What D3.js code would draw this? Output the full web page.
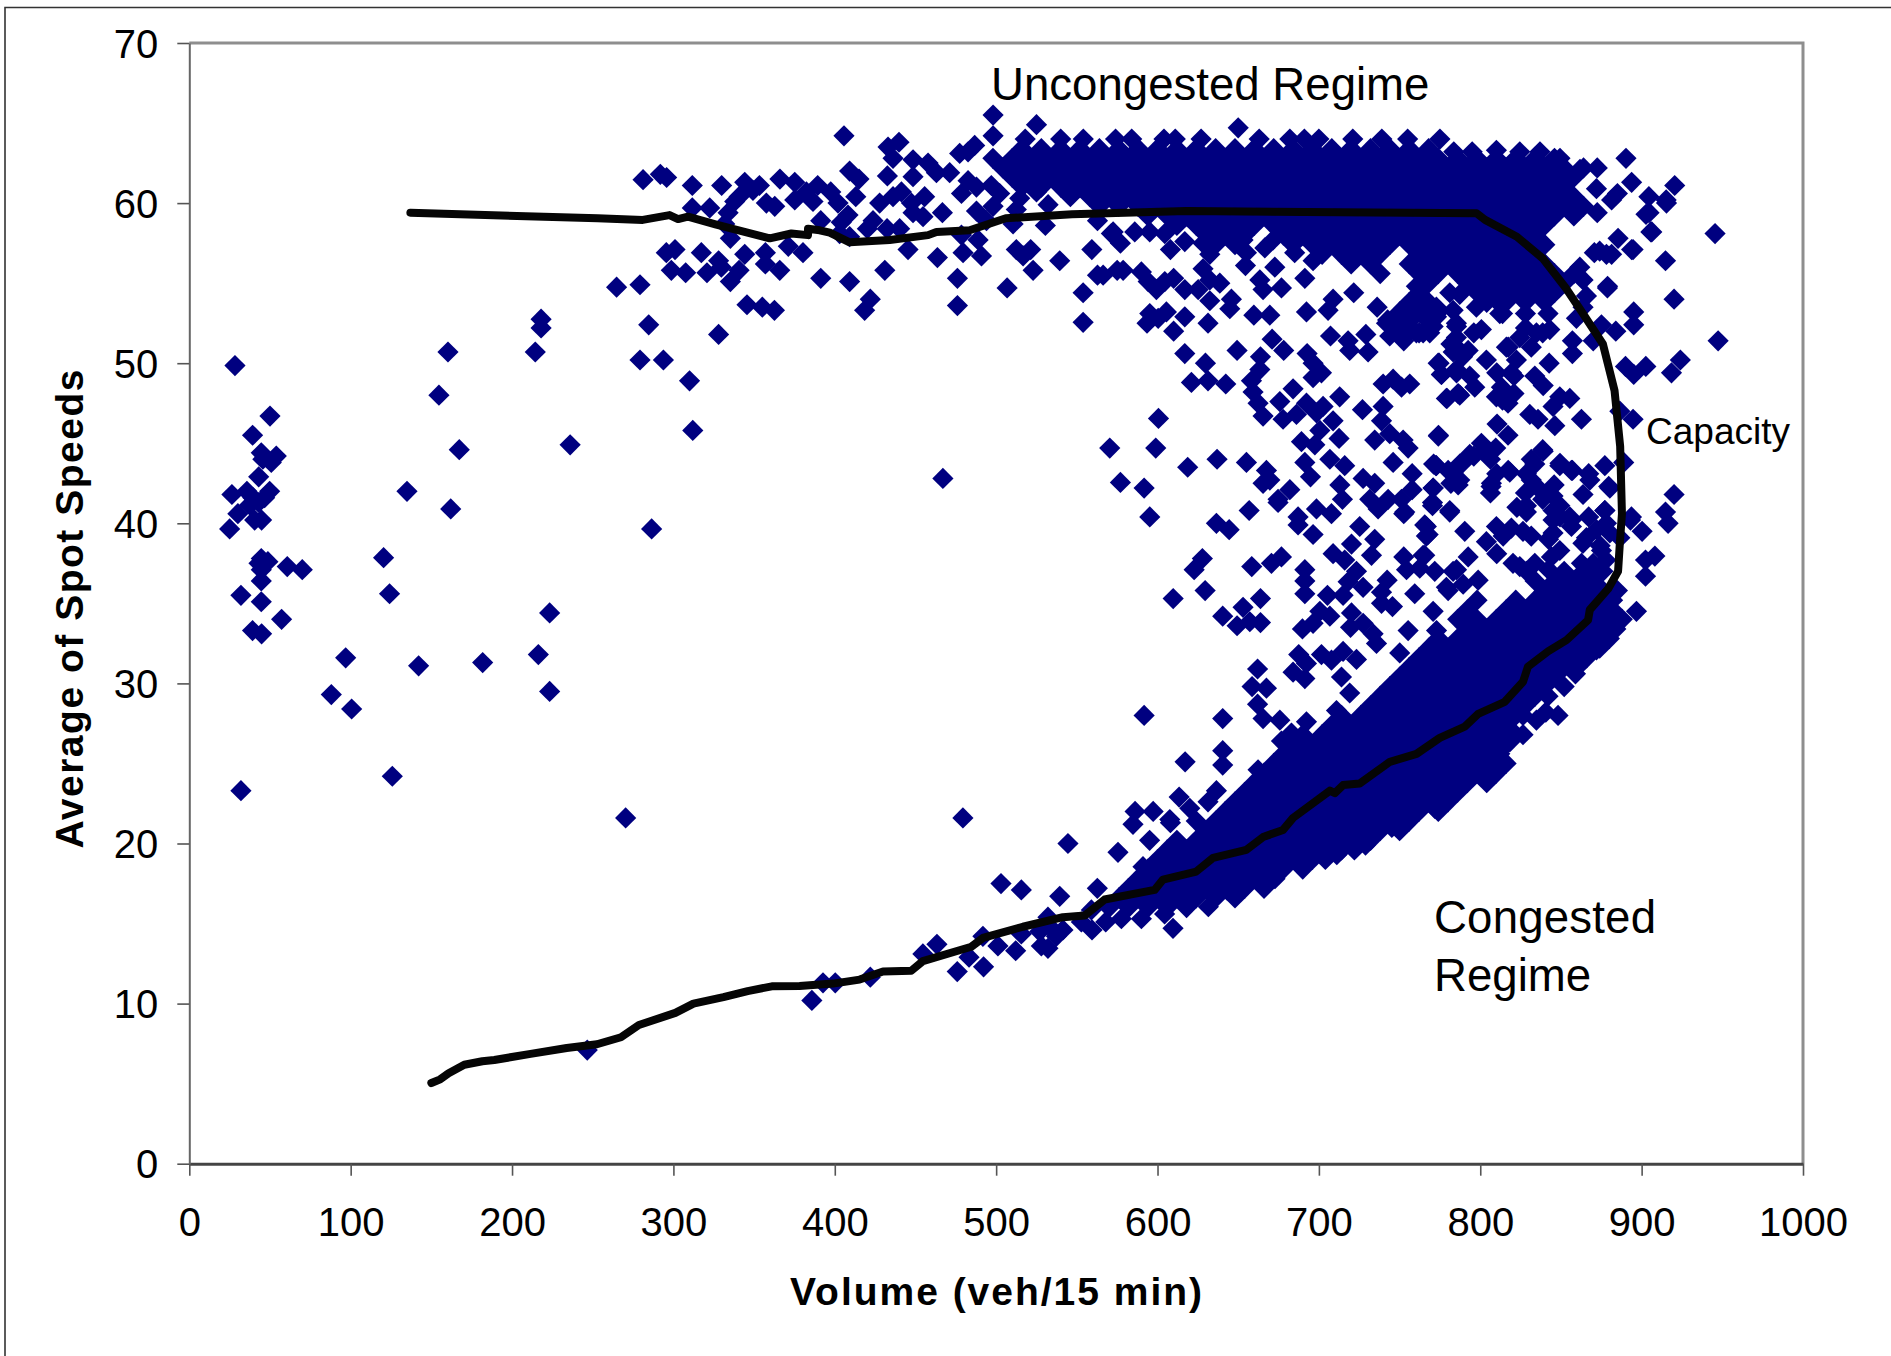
<!DOCTYPE html>
<html>
<head>
<meta charset="utf-8">
<title>Speed vs volume</title>
<script src="https://cdn.jsdelivr.net/npm/d3@7"></script>
<style>
  html, body { margin: 0; padding: 0; background: #fff; }
  svg { display: block; }
  text { font-family: "Liberation Sans", Arial, sans-serif; fill: #000; }
</style>
</head>
<body>
<script>
var xTicks = [0, 100, 200, 300, 400, 500, 600, 700, 800, 900, 1000];
var yTicks = [0, 10, 20, 30, 40, 50, 60, 70];

// [volume, speed], low volume cloud
var lowVolumePoints = [
  [28.3,49.85],[50,46.7],[39.2,45.5],[44.6,44.4],[53.9,44.2],[45.6,44],[50.8,43.8],[43,42.9],[26.4,41.8],[35.7,42],
  [49.8,42],[46.7,41.6],[39.4,41.6],[37.4,41.15],[30.1,40.6],[43,41.3],[40.5,40.2],[44.8,40.2],[25,39.65],[44.6,37.8],
  [48.7,37.6],[43.2,37.5],[44.6,37.1],[60.7,37.3],[70,37.1],[44.6,36.4],[32,35.5],[44.6,35.1],[57.2,34],[39.2,33.3],
  [44.8,33.1],[96.9,31.6],[88,29.3],[100.6,28.4],[32,23.3],[125.8,24.2],[120.4,37.85],[124.1,35.6],[134.9,42],[162,40.9],
  [167.3,44.6],[154.7,48],[160.3,50.7],[142.1,31.1],[181.8,31.3],[216.3,31.8],[223.3,29.5],[223.3,34.4],[214.4,50.7],
  [218,52.75],[218,52.2],[236,44.9],[286.5,39.65],[270.4,21.6],[264.8,54.75],[279.3,54.9],[284.7,52.4],[279.3,50.2],
  [293.8,50.2],[310,48.9],[312,45.8],[328,51.8],[479.4,21.6],[467,42.8],[246.6,7.1]
];

// loose points above and below the free-flow line, volume 280 to 600
var freeFlowPoints = [
  [281.2,61.46],[291.9,61.8],[295.8,61.6],[311.7,61.1],[329.9,61.1],[344.2,61.3],[353.3,61.1],[366,61.5],[375.2,61.3],
  [389.4,61.1],[397.5,60.7],[340.7,60.4],[349.3,60.8],[357.6,60],[362.8,59.8],[375.2,60.2],[382.4,60.7],[386.5,60.1],
  [402,60],[413,60.4],[311.7,59.7],[322.5,59.7],[333.9,59.4],[338,60.1],[331.8,58.7],[391.3,58.9],[408.2,59.25],[404,58.8],
  [403,58.1],[409.2,57.9],[335.3,57.8],[295.6,56.9],[301,57.1],[317.3,56.9],[328,56.4],[344.2,56.8],[357,56.9],[371.2,57.3],
  [380.3,56.9],[298.7,55.8],[307.6,55.65],[320.8,55.65],[329.7,56],[340.7,55.8],[335.3,55.1],[357,56.2],[365.9,55.8],
  [391.3,55.3],[409.2,55.1],[345.6,53.65],[355.1,53.5],[362.6,53.3],[422,54],[418.5,53.3],[405.7,64.2],[409.2,62],[415,61.5],
  [432.6,61.7],[433,63.5],[439.8,63.8],[436.1,62.8],[448.5,62.7],[457.8,62.5],[463,61.9],[471.2,61.9],[448.5,61.65],
  [427.8,60],[436.1,60.4],[441.3,60.7],[447.5,60],[455.7,60.4],[423.7,58.9],[420.2,58.4],[432.4,58.4],[440.2,58.4],
  [448.5,59.4],[454.7,59.15],[466.7,59.4],[445.4,57.1],[463.6,56.6],[431,55.8],[479.5,56.9],[490.9,56.7],[488.8,57.7],
  [478.5,58],[476,55.3],[476,53.6],[506.8,54.7],[512.5,57.1],[521.4,57.1],[516.7,56.7],[522.9,55.8],[539.4,56.4],
  [559.3,57.1],[562.8,55.5],[553.9,54.4],[553.9,52.55],[575,55.8],[510.5,58.7],[530.5,58.6],[562.8,58.9],[572.5,58.2],
  [487.8,59.5],[494,58.9],[477.4,63.1],[486.7,63.6],[482.6,63.2],[498.1,65.5],[525,64.9],[482.6,61.4],[478.5,60.6],
  [487.8,61],[498.1,59.8],[502.2,60.6],[497,61.1],[514.6,60.3],[512.5,59.6],[532.2,59.9],[525,60.7],[498.1,64.2],[650,64.7]
];

// scattered middle of the loop, upper half
var middleUpperPoints = [
  [566.3,55.5],[578.7,55.8],[577,57.5],[571.4,58.1],[585.9,58.2],[595.2,58.2],[604.5,58.1],[608,57.1],[616.9,57.6],
  [590,55.7],[599.3,54.6],[594.2,55.1],[604.5,55.1],[610,55.3],[616.9,54.6],[628.2,57.5],[632.4,56.8],[628.2,55.9],
  [632.4,55.2],[638.6,55],[625.2,54.6],[632.4,53.9],[644.8,53.4],[645.8,54],[595.2,53.1],[605.5,53.2],[600.4,52.8],
  [593.5,52.5],[616.9,52.9],[610,52],[631.3,52.5],[616.9,50.6],[649.3,50.8],[629.7,50],[621,48.8],[631.3,48.9],[642.3,48.7],
  [600.6,46.55],[598.9,44.7],[570.4,44.7],[618.7,43.5],[636.9,44],[655.1,43.8],[577,42.55],[591.7,42.2],[595.2,40.4],
  [656.8,40.8],[667.5,43.3],[669.6,42.7],[665.4,42.5],[674.7,41.5],[682,42.1],[687.1,40.4],[698.5,40.9],[707.8,40.6],
  [691.3,43.8],[694.8,42.9],[706.8,44],[716,43.6],[713,42.4],[714.6,41.5],[727.4,42.8],[734.6,42.5],[731.5,41.5],[736.7,40.9],
  [742.9,41.5],[751.2,41.5],[753.2,40.7],[757.8,43.1],[757.8,42.1],[770.8,42.2],[770.4,41.3],[781.1,40.7],[772.5,43.6],
  [780.1,43.3],[787.3,42.7],[774,45.45],[689.2,45.1],[697.5,44.9],[700.6,45.8],[708.8,46.4],[712.5,45.3],[665.4,46.7],
  [677.8,46.5],[686.1,46.8],[662.3,47.5],[675.8,47.6],[684,48.4],[692.3,47.5],[702.6,47.3],[712.9,47.9],[698.5,46.9],
  [659.2,48.2],[658.2,48.9],[663.8,50.4],[663.4,49.6],[692.7,50.6],[696.4,49.1],[701.6,49.4],[696.4,50],[671,51.5],[678.2,50.8],
  [707.2,51.7],[719.1,50.8],[718.1,51.4],[729.1,51.8],[730.5,50.7],[669.6,53],[659.7,53],[692.3,53.2],[705.7,53.3],[708.8,54],
  [721.6,54.4],[736.1,53.5],[741.9,52.5],[743.9,51.7],[752.6,51.4],[762.1,51.9],[770.8,52.3],[772.9,52.9],[739.8,47.3],
  [727,47.1],[738.8,46.4],[734.6,45.2],[743.9,45.6],[752.2,45.2],[755.3,44.7],[746,43.8],[739.8,48.7],[746,49],[751.2,48.5],
  [756.3,48.7],[774.5,50],[776,49.3],[785.3,49.4],[779,47.8],[786.3,48.1],[783.2,50.7],[787.3,54.3],[781.1,54.4],
  [663.4,55.2],[665.4,54.6],[676.8,54.7],[672.7,56],[654.5,56.1],[653,57.7],[655.1,56.9],[666.5,57.2],[671.6,57.7],[685,56.9],
  [696.4,56.4],[691.3,55.3],[700.6,57.5],[749.7,52.3],[760.4,51.9],[742.6,52.7],[753.3,51.7],[767.5,52.7],[774.6,53.3],
  [760.4,54.8]
];

// right hand side of the loop, around and past the capacity bend
var capacityPoints = [
  [945.5,58.1],[947.4,51.4],[920.1,54],[914.8,56.4],[905.7,58.2],[915.4,60],[904.6,59.4],[878.8,54.7],[894.7,57.1],[885.4,57.8],
  [878.2,56.8],[895.1,53.2],[895.1,52.4],[884,52],[875.1,52.4],[870,51.4],[859.6,52.8],[863.7,53.5],[865.8,54.2],[924,50.2],
  [918.5,49.4],[902.6,49.8],[890,49.8],[895.1,49.3],[857.1,51.4],[857.1,50.6],[842.7,50],[833.8,49.2],[839,48.6],[849.3,47.9],
  [855.5,47.8],[845.1,47.3],[862.7,46.5],[846.2,46.1],[830.7,46.8],[835.8,46.5],[894.7,46.5],[886.5,47],[774.1,45.5],[810.4,46.2],
  [817.2,45.5],[800.7,45],[793.5,44.3],[787.3,43.7],[809.6,44.7],[806.3,44],[772.8,43.6],[783.2,43.2],[786.3,42.4],[839,44.5],
  [833.8,43.7],[828.6,43.1],[818.3,43.2],[849.3,43.6],[857.1,43.3],[877.2,43.6],[888.9,43.8],[867.9,42.7],[863.7,41.8],[880.3,42.2],
  [920.1,41.8],[914.8,40.7],[806.9,42.5],[806.3,41.9],[770.8,42.2],[781.1,40.8],[836.9,42.1],[845.1,41.7],[849.3,41.1],[828.6,41.1],
  [855.5,40.4],[877.2,40.8],[893.7,40.4],[773.9,50],[775.9,49.3],[785.2,49.6],[793.5,49.2],[796.6,48.5],[787.3,48],[779.4,47.8],
  [792.5,50.8],[785.2,51],[803.8,50.2],[810,47.9],[817.2,47.5],[813.1,48.5],[819.3,49.4],[822.4,50.2],[816.2,51],[824.5,51.6],
  [834.8,51.9],[843.1,52.1],[842,53.1],[812.1,53.1],[800.7,52.1],[797.6,53.5],[785.2,52.5],[783.2,53.3],[785.2,51.6],[772.8,53.5],
  [768.7,51.9],[764.6,51.9],[810,53.9],[863.7,55.2],[861.7,56],[874,57],[890.3,62.8],[920.5,61.1],[915.2,60.2],[893.8,61.3],
  [904.5,60.4],[902.7,59.3],[906.3,58.2],[878.9,54.8],[893.8,57.1],[881.4,56.8],[870.7,56.9],[872,60.9],[861.8,62.1],[881.4,60.2],
  [885,60.6],[872.5,59.4],[810,63.3],[824.5,63.2],[837,63.2],[849.4,62.8],[872.5,62.2],[783.6,63.2],[795,63.2],
  [785.3,52.3],[781.8,51.2],[796,51.9],[813.8,53.1],[828,53.1],[828,52.2],[838.7,51.9],[831.6,51],[789,50.4],[817.3,51],
  [810.2,49.4],[820.9,49.2],[813.8,47.7],[820.9,48.1],[838.7,44.6],[831.6,44],[817.3,43.3],[849.4,43.75],[856.5,43.3],[867.2,43.1],
  [879.6,42.3],[803.1,44.6],[796,44.2],[788.9,43.75],[810.2,43.1],[806.7,42.3],[771.1,43.7],[781.8,42.5],[831.6,42.7],[845.8,42.4],
  [838.7,41.5],[849.4,40.4],[856.5,39.8],[828,41.9],[822.7,41],[867.2,40.4]
];

// scattered middle of the loop, lower half
var middleLowerPoints = [
  [636.5,40],[644.4,39.6],[687.1,39.9],[674.7,41.3],[696.4,39.3],[725.3,39.8],[720.2,38.7],[734.6,39],[732.6,38],
  [708.8,38.1],[716,37.7],[627.8,37.8],[622.7,37.1],[658.4,37.3],[670.6,37.5],[676.8,37.9],[691.3,37.1],[691.3,36.4],[691.3,35.6],
  [723.3,37],[718.1,36.35],[727.4,36],[742.3,36.45],[738.8,35.7],[738.8,35],[745.6,34.8],[752.6,37.9],[764.6,38],[754.3,37.1],
  [762.5,37.2],[771.8,37],[759.4,35.6],[770.8,34.5],[765.6,39.9],[767.7,39.3],[752.6,40.6],[780.1,35.8],[785.3,37.1],[609.7,35.3],
  [629.5,35.8],[663.8,35.3],[653,34.75],[640.4,34.2],[649.3,33.6],[657.2,33.85],[663.8,33.8],[705.3,35.5],[715,35.5],[700.6,34.5],
  [706.8,34.2],[689.8,33.4],[696.4,33.75],[720.2,34.4],[719.6,33.5],[727.4,33.75],[733.6,33.1],[735.7,32.5],[687.5,31.8],[701.6,31.8],
  [715,32],[692.3,31.25],[707.8,31.45],[684,30.7],[691.3,30.3],[723.3,31.5],[714,30.4],[750.1,31.9],[755.3,33.3],[772.9,33.3],
  [662,30.9],[658.6,29.8],[667.5,29.7],[662,28.7],[665.4,27.8],[591.7,28],[640.4,27.8],[675.8,27.7],[676.8,26.4],[683,26.9],
  [692.3,27.6],[710.9,28.3],[719.1,29.4],[640.4,25.8],[640.4,24.9],[617.1,25.1],[662.3,24.6],[670.6,24.5],[636.5,23.3],[631.3,22.6],
  [613.4,22.9],[620,22.2],[586.1,22],[597.3,22],[607.6,21.5],[900.3,39.5],[893.1,40.2],[916.4,40],[908.2,37.95],
  [902.4,37.7],[902.4,36.7],[896.8,34.5],[886.5,33.95],[876,32.9],[872,32.1],[859,30.6],[851.3,31.25],[841,30.2],[848.2,28],
  [840.6,28.2],[834.8,27.7],[826.5,28],[826.5,26.8],[818.3,26.35],[812.1,25.6],[810,24.8],[799.7,24.4],[781.1,23.2],[771.8,22.2],
  [770.4,41.1],[766.6,39.8],[766.6,39.2],[790.4,39.5],[765.6,38],[810,39.8],[803.8,38.85],[819.3,39.7],[826.5,39.5],[814.2,39.2],
  [792.5,37.9],[828.6,40.7],[845.1,40.8],[845.1,40.2],[856.5,40.2],[845.1,39.4],[849.3,38.3],[844.1,37.9],[865.8,39.1],[877.2,40.8],
  [878.2,40],[872,39.6],[880.3,39.4],[875.1,38.3],[862.7,37.5],[870,37.5],[866.8,36.7],[820.3,37.5],[828.6,37],[833.8,37.5],
  [783.2,37],[779,36],[789.4,36.2],[798.7,36.45],[824.5,37.3],[842.3,37.1],[877.8,37.7],[863.6,38.75],[874.3,38.6],[842.3,39],
  [831.6,39.2],[810.2,38.1],[886.5,39.1]
];

// tail of the congested branch
var congestedTailPoints = [
  [385.8,10.2],[392.7,11.3],[400.3,11.3],[422,11.65],[454.6,13.1],[463.3,13.7],[475.9,12],[483.2,12.9],[492.2,12.3],[491.8,14.2],
  [501.1,13.6],[503,17.5],[515.6,17.1],[512.1,13.3],[515.6,14.35],[544.5,20],[539.4,16.7],[532.1,15.4],[532.1,13.45],[528,13.6],
  [527,14.5],[533.2,14.8],[541.4,14.6],[537.3,14.2],[559.4,14.6],[552.8,15.1],[559,15.85],[562.7,17.2],[567.9,15.1],[577.6,15.3],
  [590,15.3],[575.5,19.45],[584.8,21.2],[608,21.3],[595.1,20.2],[613.7,19.8],[591,18.55],[609.6,14.7],[604.4,15.6],[631.5,16.05],
  [692.9,18.9],[672.8,17.8],[662.3,17.7],[643,17.1],[681.5,18.8],[711.1,19.3],[728.9,19.9],[745.2,21],[772.8,22.2]
];

// dense upper band, one row per speed: [speed, volumes]
var upperBandRows = [
  [64.0, [518,540,554,574,584,604,611,627,663,682,691,700,721,739,755,775]],
  [63.4, [516,528,540,552,564,576,588,600,612,624,636,648,660,672,684,696,708,720,732,744,756,768]],
  [62.8, [498,510,522,534,546,558,570,582,594,606,618,630,642,654,666,678,690,702,714,726,738,750,762,774,786,798,810,822,834,846]],
  [62.2, [504,516,528,540,552,564,576,588,600,612,624,636,648,660,672,684,696,708,720,732,744,756,768,780,792,804,816,828,840,852,864]],
  [61.6, [510,522,534,546,558,570,582,594,606,618,630,642,654,666,678,690,702,714,726,738,750,762,774,786,798,810,822,834,846,858]],
  [61.0, [516,528,540,552,564,576,588,600,612,624,636,648,660,672,684,696,708,720,732,744,756,768,780,792,804,816,828,840,852]],
  [60.4, [546,558,570,582,594,606,618,630,642,654,666,678,690,702,714,726,738,750,762,774,786,798,810,822,834,846,858]],
  [59.8, [564,576,588,600,612,624,636,648,660,672,684,696,708,720,732,744,756,768,780,792,804,816,828,840,852,864]],
  [59.2, [594,606,618,630,642,654,666,678,690,702,714,726,738,750,762,774,786,798,810,822,834,846,858]],
  [58.6, [612,624,636,648,660,672,684,696,708,720,732,744,756,768,780,792,804,816,828,840]],
  [58.0, [630,642,654,678,690,702,714,726,738,750,762,774,786,798,810,822,834]],
  [57.4, [636,648,684,696,708,720,732,744,756,768,780,792,804,816,828,840]],
  [56.8, [702,714,726,738,762,774,786,798,810,822,834]],
  [56.2, [720,732,756,768,780,792,804,816,828,840]],
  [55.6, [738,762,774,786,798,810,822,834,846,858]],
  [55.0, [768,792,804,816,828,840,852]],
  [54.4, [762,798,810,822,834,846]],
  [53.8, [756,768,804,816,828,840]],
  [53.2, [750,762,774]],
  [52.6, [756,768]]
];

// dense congested band, one row per speed: [speed, volumes]
var lowerBandRows = [
  [16.0, [570,582,594,606,618]],
  [16.6, [576,588,600,612,624,636,648]],
  [17.2, [582,594,606,618,630,642,654,666]],
  [17.8, [588,600,612,624,636,648,660,672]],
  [18.4, [594,606,618,630,642,654,666,678,690]],
  [19.0, [600,612,624,636,648,660,672,684,696,704]],
  [19.6, [606,618,630,642,654,666,678,690,702,714,722]],
  [20.2, [612,624,636,648,660,672,684,696,708,720,732]],
  [20.8, [630,642,654,666,678,690,702,714,726,738,750]],
  [21.4, [624,636,648,660,672,684,696,708,720,732,744,756]],
  [22.0, [642,654,666,678,690,702,714,726,738,750,762,774]],
  [22.6, [648,660,672,684,696,708,720,732,744,756,768,780]],
  [23.2, [654,666,678,690,702,714,726,738,750,762,774,786]],
  [23.8, [660,672,684,696,708,720,732,744,756,768,780,792,804]],
  [24.4, [666,678,690,702,714,726,738,750,762,774,786,798,810]],
  [25.0, [672,684,696,708,720,732,744,756,768,780,792,804,816]],
  [25.6, [678,690,702,714,726,738,750,762,774,786,798,810]],
  [26.2, [684,696,708,720,732,744,756,768,780,792,804,816]],
  [26.8, [690,702,714,726,738,750,762,774,786,798,810,822]],
  [27.4, [708,720,732,744,756,768,780,792,804,816]],
  [28.0, [714,726,738,750,762,774,786,798,810,822]],
  [28.6, [732,744,756,768,780,792,804,816,828]],
  [29.2, [738,750,762,774,786,798,810,822,834,842]],
  [29.8, [744,756,768,780,792,804,816,828,840,852]],
  [30.4, [750,762,774,786,798,810,822,834,846]],
  [31.0, [756,768,780,792,804,816,828,840,852,860]],
  [31.6, [762,774,786,798,810,822,834,846,858,866]],
  [32.2, [768,780,792,804,816,828,840,852,864,874]],
  [32.8, [774,786,798,810,822,834,846,858,870,880]],
  [33.4, [792,804,816,828,840,852,864,876,884]],
  [34.0, [786,798,810,822,834,846,858,870,882,888]],
  [34.6, [792,816,828,840,852,864,876,882]],
  [35.2, [798,822,834,846,858,870,882]],
  [35.8, [840,852,864,876,885]],
  [36.4, [834,846,858,870]],
  [37.0, [852,864,876]]
];

// the fitted curve, walked from the free-flow end round to the congested end
var curveVolume = [137,253,281,297.6,302.9,309,326.6,359.7,373.1,383.4,383.4,390.7,396.9,409.2,434,457.8,463,483.6,506,547,618,
  797.8,803,822.7,838.7,853,863.6,876,883.2,886.7,887.8,886.5,885.4,879.2,867.9,866.8,853.4,842,829.6,826.5,815.2,798.7,790.4,
  774.9,760.5,744,725.3,715,709.9,706.8,684,677.8,665.4,655,634.4,624,603.4,598.2,567.2,554.8,541.4,516.6,491.8,484.6,454.6,447.4,
  429.9,415.4,398.9,378.2,361,346,331,312.4,301.2,278.6,267.5,252.6,233.9,211.5,189,181.6,170.4,160.7,155.5,150];
var curveSpeed = [59.4,59.05,58.95,59.25,59,59.15,58.65,57.8,58.1,58,58.4,58.3,58.15,57.55,57.7,58,58.2,58.3,59.05,59.3,59.5,
  59.36,58.95,57.9,56.55,54.7,53.1,51.2,48.3,44.8,40.6,38.75,37,35.9,34.6,33.95,32.7,32,31.05,30.1,28.85,28.1,27.3,
  26.6,25.6,25.1,23.75,23.65,23.15,23.3,21.6,20.85,20.4,19.6,19.1,18.25,17.75,17.1,16.5,15.5,15.4,14.8,14.1,13.55,12.65,12.05,
  12,11.5,11.25,11.1,11.08,10.78,10.4,10,9.42,8.66,7.9,7.46,7.23,6.86,6.48,6.4,6.18,5.65,5.27,5.04];

var svg, x, y;
var plot = {left: 189.3, right: 1803, top: 43, bottom: 1163.7};

var drawSVG = function(){
  svg = d3.select("body")
          .append("svg")
          .attr("width", 1891)
          .attr("height", 1356);

  x = d3.scaleLinear().domain([0, 1000]).range([plot.left, plot.right]);
  y = d3.scaleLinear().domain([0, 70]).range([plot.bottom, plot.top]);

  // page frame, only top and left show
  svg.append("path")
     .attr("d", "M1891,7.5H5V1356")
     .attr("fill", "none")
     .attr("stroke", "#333")
     .attr("stroke-width", 1.6);
}

var drawAxes = function(){
  svg.append("path")
     .attr("d", "M" + plot.left + "," + plot.top + "H" + plot.right + "V" + plot.bottom)
     .attr("fill", "none")
     .attr("stroke", "#8e8e8e")
     .attr("stroke-width", 3);

  var xAxis = svg.append("g")
     .attr("transform", "translate(0," + plot.bottom + ")")
     .call(d3.axisBottom(x).tickValues(xTicks).tickFormat(d3.format("d")).tickSize(12).tickSizeOuter(0).tickPadding(32));
  var yAxis = svg.append("g")
     .attr("transform", "translate(" + plot.left + ",0)")
     .call(d3.axisLeft(y).tickValues(yTicks).tickFormat(d3.format("d")).tickSize(12).tickSizeOuter(0).tickPadding(19));

  svg.selectAll(".tick text").attr("font-size", 40).attr("font-family", '"Liberation Sans", Arial, sans-serif');
  yAxis.selectAll(".tick text").attr("dy", "0.35em");
  svg.selectAll(".tick line").attr("stroke", "#555").attr("stroke-width", 1.6);
  xAxis.select(".domain").attr("stroke", "#444").attr("stroke-width", 3);
  yAxis.select(".domain").attr("stroke", "#666").attr("stroke-width", 2);
}

var drawPoints = function(){
  var points = lowVolumePoints.concat(freeFlowPoints, middleUpperPoints, capacityPoints, middleLowerPoints, congestedTailPoints);
  upperBandRows.concat(lowerBandRows).forEach(function(row){
    row[1].forEach(function(v){ points.push([v, row[0]]); });
  });

  var diamond = d3.symbol().type(d3.symbolSquare).size(225);
  svg.append("g").selectAll("path")
     .data(points)
     .enter()
     .append("path")
     .attr("d", diamond)
     .attr("fill", "#000080")
     .attr("transform", function(d){
       return "translate(" + x(d[0]) + "," + y(d[1]) + ") rotate(45)";
     });
}

var drawCurve = function(){
  var line = d3.line()
               .x(function(d){ return x(d); })
               .y(function(d, i){ return y(curveSpeed[i]); });
  svg.append("path")
     .attr("d", line(curveVolume))
     .attr("fill", "none")
     .attr("stroke", "#050505")
     .attr("stroke-width", 8)
     .attr("stroke-linejoin", "round")
     .attr("stroke-linecap", "round");
}

var drawLabels = function(){
  svg.append("text").attr("x", 996).attr("y", 1305).attr("text-anchor", "middle")
     .attr("font-size", 39).attr("font-weight", "bold").attr("textLength", 412)
     .text("Volume (veh/15 min)");
  svg.append("text").attr("transform", "translate(83,609) rotate(-90)").attr("text-anchor", "middle")
     .attr("font-size", 39).attr("font-weight", "bold").attr("textLength", 479)
     .text("Average of Spot Speeds");
  svg.append("text").attr("x", 991).attr("y", 100).attr("font-size", 45.6).text("Uncongested Regime");
  svg.append("text").attr("x", 1434).attr("y", 933).attr("font-size", 45.6).attr("textLength", 222).text("Congested");
  svg.append("text").attr("x", 1434).attr("y", 991).attr("font-size", 45.6).text("Regime");
  svg.append("text").attr("x", 1646).attr("y", 444).attr("font-size", 37).text("Capacity");
}

drawSVG();
drawAxes();
drawPoints();
drawCurve();
drawLabels();
</script>
</body>
</html>
